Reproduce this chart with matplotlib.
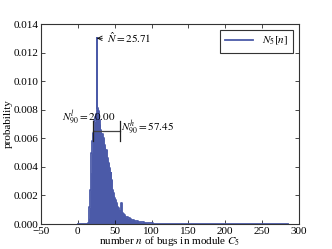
import numpy as np
import matplotlib
matplotlib.use('Agg')
from matplotlib import pyplot as plt

plt.rcParams['font.family'] = 'serif'
plt.rcParams['font.serif'] = ['Liberation Serif', 'DejaVu Serif']
plt.rcParams['mathtext.fontset'] = 'stix'

# probability mass per number of bugs n
n_vals = np.arange(14, 116)
p_vals = [0.0001, 0.0004, 0.0012, 0.0024, 0.0036, 0.0050, 0.0058, 0.0064, 0.0066, 0.0072,
          0.0075, 0.0077, 0.0130, 0.0081, 0.0079, 0.0073, 0.0070, 0.0066, 0.0062, 0.0063,
          0.0058, 0.0060, 0.0055, 0.0054, 0.0050, 0.0052, 0.0046, 0.0044, 0.0043, 0.0039,
          0.0034, 0.0036, 0.0031, 0.0024, 0.0022, 0.0020, 0.0018, 0.0017, 0.0015, 0.0014,
          0.0012, 0.0011, 0.0010, 0.0009, 0.0008, 0.0015, 0.0009, 0.0008, 0.0007, 0.0006,
          0.0006, 0.0005, 0.0005, 0.0005, 0.0004, 0.0004, 0.0004, 0.00035, 0.0003, 0.0003,
          0.0003, 0.00028, 0.00025, 0.00024, 0.00022, 0.0002, 0.0002, 0.00018, 0.00017, 0.00016,
          0.00015, 0.00014, 0.00013, 0.00012, 0.00012, 0.00011, 0.0001, 0.0001, 0.00009, 0.00008,
          0.00008, 0.00007, 0.00006, 0.00006, 0.00005, 0.00005, 0.00004, 0.00004, 0.00003, 0.00003,
          0.00003, 0.00002, 0.00002, 0.00002, 0.00002, 0.00001, 0.00001, 0.00001, 0.00001, 0.00001,
          0.00001, 0.0]
n_max = 285

n_hat = 25.71
n_low = 20.00
n_high = 57.45

blue = '#4b5aa8'
fs = 8

# full support, zeros outside the read values
n_all = np.arange(0, n_max + 1)
p_all = np.zeros(len(n_all))
p_all[n_vals] = p_vals

fig = plt.figure(figsize=(3.32, 2.49), dpi=100)
ax = fig.add_axes([0.1235, 0.1004, 0.777, 0.8032])

ax.fill_between(n_all, p_all, step='mid', color=blue, linewidth=0)
ax.plot(n_all, p_all, drawstyle='steps-mid', color=blue, lw=1.3, label=r'$N_5[n]$')

# mean marker
ax.annotate(r'$\hat{N} = %.2f$' % n_hat, xy=(n_hat, 0.013), xytext=(39, 0.013),
            fontsize=fs, va='center', ha='left',
            arrowprops=dict(arrowstyle='->', lw=0.6, color='k', shrinkA=1, shrinkB=0))

# 90% interval bracket
yb = 0.0065
ax.plot([n_low, n_high], [yb, yb], color='#444444', lw=0.9)
ax.plot([n_low, n_low], [yb - 0.0007, yb + 0.0007], color='#222222', lw=0.9)
ax.plot([n_high, n_high], [yb - 0.0007, yb + 0.0007], color='#222222', lw=0.9)
ax.text(15, 0.0075, r'$N^l_{90} = %.2f$' % n_low, fontsize=fs, ha='center', va='center')
ax.text(58.5, 0.0068, r'$N^h_{90} = %.2f$' % n_high, fontsize=fs, ha='left', va='center')

ax.set_xlim(-50, 300)
ax.set_ylim(0, 0.014)
ax.set_xticks(np.arange(-50, 301, 50))
ax.set_yticks(np.arange(0, 0.0141, 0.002))
ax.set_yticklabels(['%.3f' % v for v in np.arange(0, 0.0141, 0.002)])
ax.tick_params(direction='in', top=True, right=True, labelsize=fs, length=3, width=0.5, pad=2)
for s in ax.spines.values():
    s.set_linewidth(0.8)
    s.set_color('#333333')

ax.set_xlabel(r'number $n$ of bugs in module $C_5$', fontsize=fs, labelpad=-1)
ax.set_ylabel('probability', fontsize=fs, labelpad=0)

leg = ax.legend(loc='upper right', fontsize=fs, fancybox=False, framealpha=1,
                edgecolor='#333333', handlelength=2.5, borderpad=0.5)
leg.get_frame().set_linewidth(0.8)

fig.savefig('out.png', dpi=100)
